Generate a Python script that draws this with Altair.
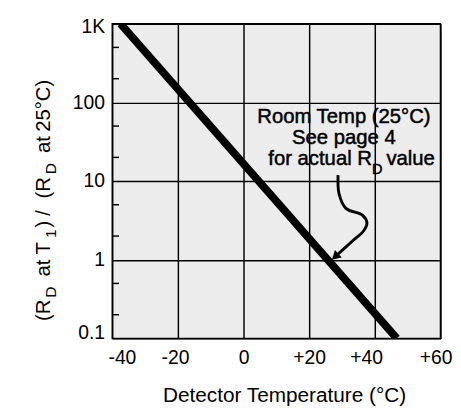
import altair as alt
import pandas as pd

# ---- data ----
temp_ticks = [-40, -20, 0, 20, 40, 60]
ratio_ticks = [0.1, 1, 10, 100, 1000]
minor_ratio = [0.2, 0.5, 2, 5, 20, 50, 200, 500]

line_temp = [-37.5, 46.7]
line_ratio = [1000, 0.1]

arrow_temp = [28.8, 29.1, 31.2, 36.2, 37.6, 36.5, 33.2, 27.9]
arrow_ratio = [11.9, 6.9, 4.5, 3.7, 2.97, 2.3, 1.73, 1.09]
head_temp = [27.9]
head_ratio = [1.09]

note_lines = ["Room Temp (25°C)", "See page 4"]
note_line3 = ["for actual R", "D", "value"]

ytitle_parts = ["(R", "D", "at", "T", "1", ")", "/", "(R", "D", "at", "25°C)"]
ytitle_sub = [False, True, False, False, True, False, False, False, True, False, False]
ytitle_pos = [308, 284, 262, 239, 222, 211, 199, 181, 156, 134, 112]

FONT = "Liberation Sans"

xs = alt.Scale(domain=[-40, 60], nice=False)
ys = alt.Scale(type="log", domain=[0.1, 1000], nice=False)

line_df = pd.DataFrame({"t": line_temp, "r": line_ratio})
arrow_df = pd.DataFrame({"t": arrow_temp, "r": arrow_ratio, "i": list(range(len(arrow_temp)))})
head_df = pd.DataFrame({"t": head_temp, "r": head_ratio})
minor_df = pd.DataFrame({"r": minor_ratio})

x_offset = {"condition": [
    {"test": "datum.value == -40", "value": 10},
    {"test": "datum.value == -20", "value": -3},
    {"test": "datum.value == 40", "value": -9},
    {"test": "datum.value == 60", "value": -5}], "value": 0}
y_offset = {"condition": [
    {"test": "datum.value == 1000", "value": 3},
    {"test": "datum.value < 0.5", "value": -6}], "value": 0}

main = alt.Chart(line_df).mark_line(color="black", strokeWidth=8, clip=True, strokeCap="butt").encode(
    x=alt.X("t:Q", scale=xs, axis=alt.Axis(
        values=temp_ticks, grid=True, gridColor="black", gridWidth=1.5, gridOpacity=1,
        ticks=False, domain=False, labelFont=FONT, labelFontSize=20, labelColor="black",
        labelPadding=10, labelFlush=False,
        labelExpr="datum.value > 0 ? '+' + datum.value : '' + datum.value",
        labelOffset=x_offset,
        title="Detector Temperature (°C)", titleFont=FONT, titleFontSize=21.5,
        titleFontWeight="normal", titleColor="black", titleX=178, titleY=65,
        titleBaseline="alphabetic", titleAlign="center")),
    y=alt.Y("r:Q", scale=ys, axis=alt.Axis(
        values=ratio_ticks, grid=True, gridColor="black", gridWidth=1.5, gridOpacity=1,
        ticks=False, domain=False, labelFont=FONT, labelFontSize=20, labelColor="black",
        labelPadding=8, labelOffset=y_offset, labelFlush=False,
        labelExpr="datum.value >= 1000 ? '1K' : (datum.value >= 1 ? '' + datum.value : '0.1')",
        title=None)),
)

minor = alt.Chart(minor_df).mark_rule(color="black", strokeWidth=1.5).encode(
    x=alt.value(0), x2=alt.value(7), y=alt.Y("r:Q", scale=ys))

arrow = alt.Chart(arrow_df).mark_line(color="black", strokeWidth=3, interpolate="catmull-rom").encode(
    x=alt.X("t:Q", scale=xs), y=alt.Y("r:Q", scale=ys), order="i:Q")

head = alt.Chart(head_df).mark_point(shape="triangle-up", filled=True, color="black",
                                     size=110, angle=228, opacity=1).encode(
    x=alt.X("t:Q", scale=xs), y=alt.Y("r:Q", scale=ys))

txt = dict(font=FONT, fontSize=21, color="black", stroke="black", strokeWidth=0.5,
           baseline="alphabetic")
note1 = alt.Chart(pd.DataFrame({"s": [note_lines[0]]})).mark_text(align="center", **txt).encode(
    text="s:N", x=alt.value(240), y=alt.value(103))
note2 = alt.Chart(pd.DataFrame({"s": [note_lines[1]]})).mark_text(align="center", **txt).encode(
    text="s:N", x=alt.value(240), y=alt.value(125))
note3a = alt.Chart(pd.DataFrame({"s": [note_line3[0]]})).mark_text(align="right", **txt).encode(
    text="s:N", x=alt.value(269), y=alt.value(146))
txt_sub = dict(txt)
txt_sub["fontSize"] = 15
note3b = alt.Chart(pd.DataFrame({"s": [note_line3[1]]})).mark_text(align="left", **txt_sub).encode(
    text="s:N", x=alt.value(269), y=alt.value(156))
note3c = alt.Chart(pd.DataFrame({"s": [note_line3[2]]})).mark_text(align="left", **txt).encode(
    text="s:N", x=alt.value(284), y=alt.value(146))

ytitle_layers = []
for part, sub, pos in zip(ytitle_parts, ytitle_sub, ytitle_pos):
    ytitle_layers.append(
        alt.Chart(pd.DataFrame({"s": [part]})).mark_text(
            align="left", baseline="alphabetic", angle=270, font=FONT,
            fontSize=16 if sub else 21, color="black").encode(
            text="s:N", x=alt.value(-58 if sub else -65), y=alt.value(pos)))

chart = alt.layer(main, minor, arrow, head, note1, note2, note3a, note3b, note3c,
                  *ytitle_layers).properties(
    width=340, height=326,
    autosize=alt.AutoSizeParams(type="none"),
    padding={"left": 108, "top": 9, "right": 13, "bottom": 70},
).configure_view(fill="#ececec", stroke="black", strokeWidth=1.5)

chart.save("out.html", embed_options={"renderer": "svg", "actions": False})
